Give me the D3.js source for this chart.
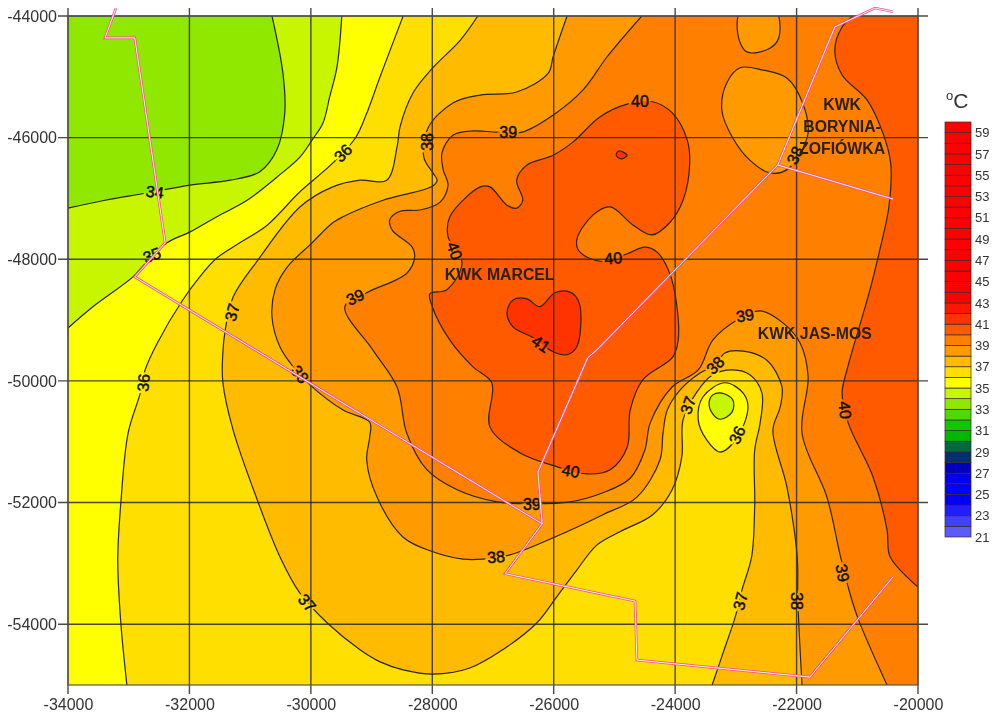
<!DOCTYPE html>
<html>
<head>
<meta charset="utf-8">
<script src="https://d3js.org/d3.v7.min.js"></script>
<style>
  html, body { margin: 0; background: #fff; }
  svg { display: block; font-family: "Liberation Sans", Arial, sans-serif; }
</style>
</head>
<body>
<div id="chart"></div>
<script>
const iso34 = [[-34000,-47160],[-33390,-47030],[-32700,-46910],[-31990,-46780],[-31330,-46700],[-30840,-46560],[-30560,-46200],[-30430,-45600],[-30460,-44940],[-30640,-44000]]
const iso35 = [[-34000,-49130],[-33590,-48780],[-32930,-48290],[-32700,-48040],[-32370,-47730],[-31990,-47550],[-31550,-47300],[-31050,-47030],[-30560,-46650],[-30180,-46320],[-29980,-46040],[-29800,-45760],[-29690,-45330],[-29570,-44840],[-29490,-44000]]
const iso36 = [[-33030,-55000],[-33130,-53980],[-33180,-52940],[-33130,-52010],[-33010,-50860],[-32810,-50200],[-32730,-49820],[-32530,-49380],[-32110,-48670],[-31830,-48290],[-31550,-47980],[-31170,-47730],[-30720,-47440],[-30180,-46890],[-29640,-46420],[-29270,-46010],[-29080,-45600],[-28860,-45000],[-28480,-44000]]
const iso37 = [[-27250,-44000],[-27540,-44400],[-27990,-44850],[-28320,-45270],[-28530,-45820],[-28580,-46150],[-28750,-46700],[-29190,-46700],[-29640,-46810],[-30180,-47140],[-30870,-48010],[-31280,-48620],[-31410,-49160],[-31450,-49540],[-31450,-50020],[-31280,-50810],[-30870,-51990],[-30510,-52890],[-30180,-53490],[-29730,-53980],[-29190,-54420],[-28860,-54620],[-28480,-54750],[-27990,-54820],[-27380,-54720],[-26840,-54420],[-26280,-53980],[-25950,-53550],[-25620,-53110],[-25290,-52700],[-24910,-52480],[-24370,-52200],[-24050,-51790],[-23890,-51250],[-23870,-50640],[-23640,-50180],[-23380,-49900],[-23050,-49820],[-22770,-49900],[-22570,-50200],[-22600,-50690],[-22690,-51140],[-22690,-52070],[-22740,-52890],[-22900,-53440],[-23010,-53880],[-23210,-54470],[-23390,-55000]]
const iso38 = [[-25780,-44000],[-26010,-44670],[-26090,-44940],[-26610,-45250],[-27210,-45300],[-27660,-45430],[-28070,-45840],[-28140,-46320],[-27990,-46580],[-27920,-46700],[-28000,-46800],[-28810,-47030],[-29470,-47300],[-29640,-47400],[-29980,-47730],[-30390,-48130],[-30590,-48500],[-30640,-48950],[-30510,-49440],[-30290,-49770],[-30010,-50070],[-29470,-50480],[-29030,-50680],[-29030,-50920],[-29080,-51300],[-28910,-51910],[-28480,-52570],[-27990,-52810],[-27490,-52930],[-27170,-52930],[-26720,-52860],[-26010,-52580],[-25190,-52200],[-24630,-51910],[-24250,-51300],[-24200,-50860],[-24130,-50480],[-23920,-50150],[-23590,-49870],[-23340,-49740],[-23180,-49540],[-22880,-49510],[-22490,-49660],[-22240,-50100],[-22270,-50430],[-22390,-50810],[-22160,-51740],[-21990,-52890],[-21980,-53600],[-21910,-55000]]
const iso39 = [[-24550,-44000],[-25120,-44670],[-25520,-45220],[-26010,-45630],[-26520,-45910],[-26930,-45910],[-27330,-45890],[-27660,-45960],[-27840,-46250],[-27820,-46530],[-27740,-46780],[-27870,-47060],[-28200,-47190],[-28530,-47210],[-28700,-47350],[-28660,-47520],[-28330,-47800],[-28290,-47960],[-28420,-48230],[-29080,-48550],[-29440,-48780],[-28980,-49490],[-28580,-50100],[-28420,-50860],[-28090,-51460],[-27590,-51790],[-26930,-51990],[-26360,-52020],[-25730,-51990],[-25190,-51840],[-24740,-51600],[-24500,-51140],[-24410,-50690],[-24050,-50100],[-23620,-49820],[-23380,-49330],[-22980,-49000],[-22600,-48850],[-22220,-49050],[-21940,-49380],[-21810,-49930],[-21910,-50860],[-21500,-51910],[-21290,-52830],[-21150,-53390],[-20990,-53900],[-20510,-55000]]
const iso40East = [[-21070,-44000],[-21250,-44180],[-21370,-44560],[-21250,-44970],[-20840,-45380],[-20580,-45920],[-20450,-46420],[-20480,-47140],[-20630,-47850],[-20790,-48500],[-21170,-49820],[-21250,-50200],[-21150,-50690],[-20740,-51580],[-20510,-52450],[-20460,-52890],[-20000,-53390]]
const iso40Centre = [[-24370,-45410],[-24040,-45600],[-23800,-46040],[-23760,-46420],[-23870,-47030],[-24090,-47400],[-24380,-47600],[-24690,-47440],[-25070,-47140],[-25350,-47270],[-25620,-47680],[-25570,-47880],[-25190,-48040],[-24790,-47910],[-24500,-47800],[-24300,-47880],[-24090,-48230],[-23970,-48780],[-23950,-49330],[-24040,-49610],[-24530,-49980],[-24740,-50480],[-24790,-51090],[-25070,-51460],[-25450,-51530],[-25950,-51410],[-26560,-51180],[-27050,-50760],[-27020,-50030],[-27330,-49770],[-27710,-49330],[-28000,-48780],[-28040,-48570],[-27760,-48500],[-27510,-48060],[-27740,-47630],[-27710,-47300],[-27210,-46810],[-27050,-46810],[-26770,-47110],[-26610,-47160],[-26510,-47030],[-26610,-46700],[-26440,-46450],[-26010,-46290],[-25680,-46070],[-25240,-45660],[-24790,-45450]]
const iso41Heart = [[-26770,-48880],[-26670,-48670],[-26440,-48650],[-26230,-48780],[-25980,-48550],[-25730,-48540],[-25580,-48720],[-25620,-49440],[-25780,-49570],[-26010,-49520],[-26340,-49290],[-26670,-49110]]
const iso41Small = [[-24970,-46290],[-24930,-46220],[-24790,-46290],[-24880,-46350]]
const low39North = [[-22900,-43870],[-22970,-44280],[-22820,-44590],[-22440,-44530],[-22290,-44350],[-22360,-43870]]
const low39East = [[-22930,-44850],[-22550,-44890],[-22160,-45020],[-21900,-45430],[-21810,-45920],[-21940,-46250],[-22160,-46530],[-22440,-46580],[-22770,-46370],[-23060,-45990],[-23230,-45550],[-23150,-45100]]
const low36 = [[-23180,-50030],[-22880,-50200],[-22800,-50430],[-22970,-50920],[-23260,-51170],[-23480,-50970],[-23620,-50640],[-23540,-50260]]
const low35 = [[-23230,-50200],[-23050,-50310],[-23060,-50510],[-23260,-50630],[-23390,-50530],[-23440,-50350],[-23380,-50230]]

// Mine boundaries
const mineWest = [[-33210,-43870],[-33390,-44360],[-32900,-44360],[-32400,-47730],[-32900,-48290],[-26190,-52350]]
const mineNorth = [[-26190,-52350],[-26260,-51500],[-25440,-49620],[-25290,-49490],[-22310,-46450],[-21370,-44180],[-20710,-43870],[-20410,-43930]]
const mineEast = [[-22310,-46450],[-20410,-47010]]
const mineSouth = [[-26190,-52350],[-26800,-53170],[-24660,-53620],[-24630,-54590],[-21780,-54870],[-20410,-53220]]

// [value, x, y, angle]
const isoLabels = [
  [34,-32570,-46890,7],[35,-32620,-47930,-20],[36,-29470,-46250,-45],[36,-32760,-50030,-85],
  [37,-31300,-48870,-75],[38,-30180,-49890,50],[38,-28090,-46070,-90],[39,-26750,-45910,0],
  [40,-24580,-45400,0],[40,-27630,-47860,70],[39,-29270,-48620,-25],[40,-25020,-47980,-5],
  [41,-26210,-49390,35],[40,-25720,-51480,10],[39,-26360,-52020,0],[38,-26950,-52890,-5],
  [37,-30060,-53650,50],[39,-22850,-48920,-10],[38,-23340,-49740,-45],[37,-23790,-50400,-70],
  [36,-22980,-50890,-65],[40,-21200,-50480,85],[39,-21240,-53160,80],[38,-21990,-53620,90],
  [37,-22930,-53620,-75],[38,-22030,-46290,-65]
]
const siteNames = [
  ['KWK MARCEL',-26890,-48240],['KWK JAS-MOS',-21700,-49210],
  ['KWK',-21250,-45460],['BORYNIA-',-21250,-45820],['ZOFIÓWKA',-21250,-46170]
]

const xTicks = [-34000,-32000,-30000,-28000,-26000,-24000,-22000,-20000]
const yTicks = [-44000,-46000,-48000,-50000,-52000,-54000]
const legendTicks = [21,23,25,27,29,31,33,35,37,39,41,43,45,47,49,51,53,55,57,59]
// one colour per degree, from 21 upwards
const legendColors = ['#5a5aff','#4040ff','#2020ff','#0000ff','#0000ff','#0000f0','#0000c0','#003070','#006a3a','#00b800','#10c800','#50d800','#90e800','#c8f500','#ffff00','#ffdf00','#ffbb00','#ff9a00','#ff7f00','#ff5a00','#ff3300','#ff1500','#ff0000','#ff0000','#ff0000','#ff0000','#ff0000','#ff0000','#ff0000','#ff0000','#ff0000','#ff0000','#ff0000','#ff0000','#ff0000','#ff0000','#ff0000','#ff0000','#ff0000']

const width = 993
const height = 718
const margin = { top: 16, right: 75, bottom: 33, left: 68 }
const FONT_COLOR = '#333'
const bandColor = v => legendColors[v - 21]

const x = d3.scaleLinear().domain([-34000, -20000]).range([margin.left, width - margin.right])
const y = d3.scaleLinear().domain([-55000, -44000]).range([height - margin.bottom, margin.top])

const svg = d3.select('#chart').append('svg')
  .attr('width', width).attr('height', height)
  .style('filter', 'blur(0.45px)')

const defs = svg.append('defs')

defs.append('clipPath').attr('id', 'plot-clip').append('rect')
  .attr('x', x.range()[0]).attr('y', y.range()[1])
  .attr('width', x.range()[1] - x.range()[0])
  .attr('height', y.range()[0] - y.range()[1])

const openLine = d3.line().x(d => x(d[0])).y(d => y(d[1])).curve(d3.curveCatmullRom.alpha(0.5))
const closedLine = d3.line().x(d => x(d[0])).y(d => y(d[1])).curve(d3.curveCatmullRomClosed.alpha(0.5))
const straightLine = d3.line().x(d => x(d[0])).y(d => y(d[1]))

// Close an open isoline along the plot corners to get its filled side
function regionPath(points, corners) {
  return openLine(points) + corners.map(c => `L${x(c[0])},${y(c[1])}`).join('') + 'Z'
}

const NE = [-20000, -44000]
const SE = [-20000, -55000]
const SW = [-34000, -55000]

// Painted low to high, the two pockets and the blobs come after
const openBands = [
  { band: 34, points: iso34, corners: [NE, SE, SW] },
  { band: 35, points: iso35, corners: [NE, SE, SW] },
  { band: 36, points: iso36, corners: [NE, SE] },
  { band: 37, points: iso37, corners: [SE, NE] },
  { band: 38, points: iso38, corners: [SE, NE] },
  { band: 39, points: iso39, corners: [SE, NE] },
  { band: 40, points: iso40East, corners: [NE] }
]
const closedBands = [
  { band: 40, points: iso40Centre },
  { band: 41, points: iso41Heart },
  { band: 41, points: iso41Small },
  { band: 38, points: low39North },
  { band: 38, points: low39East },
  { band: 35, points: low36 },
  { band: 34, points: low35 }
]

const labelPos = d => `translate(${x(d[1])},${y(d[2])}) rotate(${d[3]})`

// Mask cuts the isolines under each label, the fills stay whole
const gapMask = defs.append('mask')
  .attr('id', 'label-gaps')
  .attr('maskUnits', 'userSpaceOnUse')
  .attr('x', 0).attr('y', 0).attr('width', width).attr('height', height)
gapMask.append('rect').attr('width', width).attr('height', height).attr('fill', '#fff')
gapMask.selectAll('text')
  .data(isoLabels)
  .join('text')
  .attr('transform', labelPos)
  .attr('text-anchor', 'middle').attr('dy', '0.36em')
  .attr('font-size', '16px')
  .attr('fill', '#000').attr('stroke', '#000').attr('stroke-width', 5)
  .text(d => d[0])

const mapG = svg.append('g').attr('clip-path', 'url(#plot-clip)')

mapG.append('rect')
  .attr('x', x.range()[0]).attr('y', y.range()[1])
  .attr('width', x.range()[1] - x.range()[0])
  .attr('height', y.range()[0] - y.range()[1])
  .attr('fill', bandColor(33))

mapG.selectAll('.band-open')
  .data(openBands)
  .join('path')
  .attr('class', 'band-open')
  .attr('d', d => regionPath(d.points, d.corners))
  .attr('fill', d => bandColor(d.band))

mapG.selectAll('.band-closed')
  .data(closedBands)
  .join('path')
  .attr('class', 'band-closed')
  .attr('d', d => closedLine(d.points))
  .attr('fill', d => bandColor(d.band))

// Isolines
const isoG = mapG.append('g').attr('mask', 'url(#label-gaps)')

isoG.selectAll('.iso-open')
  .data(openBands)
  .join('path')
  .attr('class', 'iso-open')
  .attr('d', d => openLine(d.points))
  .attr('fill', 'none').attr('stroke', '#2b2410').attr('stroke-width', 1.2)

isoG.selectAll('.iso-closed')
  .data(closedBands)
  .join('path')
  .attr('class', 'iso-closed')
  .attr('d', d => closedLine(d.points))
  .attr('fill', 'none').attr('stroke', '#2b2410').attr('stroke-width', 1.2)

// Grid runs a little past the frame on every side
svg.append('g').selectAll('line')
  .data(xTicks)
  .join('line')
  .attr('x1', d => x(d)).attr('x2', d => x(d))
  .attr('y1', y.range()[1] - 8).attr('y2', y.range()[0] + 9)
  .attr('stroke', '#2a2a20').attr('stroke-width', 1.4).attr('stroke-opacity', 0.85)

svg.append('g').selectAll('line')
  .data(yTicks)
  .join('line')
  .attr('x1', x.range()[0] - 10).attr('x2', x.range()[1] + 10)
  .attr('y1', d => y(d)).attr('y2', d => y(d))
  .attr('stroke', '#2a2a20').attr('stroke-width', 1.4).attr('stroke-opacity', 0.85)

svg.append('rect')
  .attr('x', x.range()[0]).attr('y', y.range()[1])
  .attr('width', x.range()[1] - x.range()[0])
  .attr('height', y.range()[0] - y.range()[1])
  .attr('fill', 'none').attr('stroke', '#555').attr('stroke-width', 1.2)

// Axes, only the text is kept, the grid above gives the ticks
svg.append('g')
  .attr('transform', `translate(0,${height - margin.bottom})`)
  .call(d3.axisBottom(x).tickValues(xTicks).tickFormat(d => String(d)).tickSize(9).tickPadding(5))
  .call(g => {
    g.select('.domain').remove()
    g.selectAll('.tick line').remove()
    g.selectAll('.tick text')
      .attr('fill', FONT_COLOR).attr('font-size', '16px')
      .attr('font-family', '"Liberation Sans", Arial, sans-serif')
  })

svg.append('g')
  .attr('transform', `translate(${margin.left},0)`)
  .call(d3.axisLeft(y).tickValues(yTicks).tickFormat(d => String(d)).tickSize(10).tickPadding(1))
  .call(g => {
    g.select('.domain').remove()
    g.selectAll('.tick line').remove()
    g.selectAll('.tick text')
      .attr('fill', FONT_COLOR).attr('font-size', '16px')
      .attr('font-family', '"Liberation Sans", Arial, sans-serif')
  })

// Isoline labels
svg.append('g').selectAll('text')
  .data(isoLabels)
  .join('text')
  .attr('transform', labelPos)
  .attr('text-anchor', 'middle').attr('dy', '0.36em')
  .attr('font-size', '16px')
  .attr('fill', '#111').attr('stroke', '#111').attr('stroke-width', 0.5)
  .text(d => d[0])

// Mine boundaries, pink with a thin white core
const mines = [mineWest, mineNorth, mineEast, mineSouth]
svg.append('g').selectAll('path')
  .data(mines)
  .join('path')
  .attr('d', straightLine)
  .attr('fill', 'none').attr('stroke', '#f2558a').attr('stroke-width', 2.6)
svg.append('g').selectAll('path')
  .data(mines)
  .join('path')
  .attr('d', straightLine)
  .attr('fill', 'none').attr('stroke', '#fff0f4').attr('stroke-width', 1)

svg.append('g').selectAll('text')
  .data(siteNames)
  .join('text')
  .attr('x', d => x(d[1])).attr('y', d => y(d[2]))
  .attr('text-anchor', 'middle').attr('dy', '0.36em')
  .attr('font-size', '15.8px').attr('font-weight', 'bold')
  .attr('fill', '#2a2010')
  .text(d => d[0])

// Colour scale at the right
const legendScale = d3.scaleLinear().domain([21, 60]).range([537, 122])
const legendG = svg.append('g')

legendG.selectAll('rect')
  .data(legendColors)
  .join('rect')
  .attr('x', 945).attr('width', 26)
  .attr('y', (d, i) => legendScale(22 + i))
  .attr('height', (d, i) => legendScale(21 + i) - legendScale(22 + i))
  .attr('fill', d => d)
  .attr('stroke', '#3a2a2a').attr('stroke-width', 0.7)

legendG.append('g')
  .attr('transform', 'translate(971,0)')
  .call(d3.axisRight(legendScale).tickValues(legendTicks).tickSize(0).tickPadding(4))
  .call(g => {
    g.select('.domain').remove()
    g.selectAll('.tick line').remove()
    g.selectAll('.tick text')
      .attr('fill', FONT_COLOR).attr('font-size', '13px')
      .attr('font-family', '"Liberation Sans", Arial, sans-serif')
  })

const unit = svg.append('text')
  .attr('x', 946).attr('y', 108)
  .attr('fill', FONT_COLOR).attr('font-size', '21px')
unit.append('tspan').attr('font-size', '13px').attr('dy', '-8').text('o')
unit.append('tspan').attr('dy', '8').text('C')
</script>
</body>
</html>
